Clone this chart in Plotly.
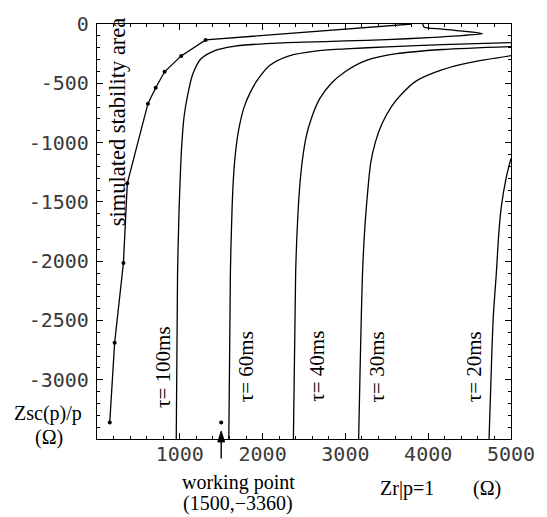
import plotly.graph_objects as go

# ---- data ----
stab_x = [154, 213, 319, 366, 615, 709, 816, 1017, 1312]
stab_y = [-3360, -2688, -2016, -1344, -672, -538, -403, -269, -134]
stab_end_x = [3800]
stab_end_y = [0]

tau100_x = [957, 973, 990, 1005, 1022, 1052, 1099, 1158, 1253, 1415, 1651, 2045, 2500, 3000, 3500, 4000, 4400, 4657, 4172, 3948, 3936]
tau100_y = [-3500, -2100, -1600, -1300, -1040, -778, -585, -420, -295, -226, -188, -165, -153, -143, -132, -115, -98, -80, -44, -25, 0]

tau60_x = [1592, 1611, 1631, 1652, 1680, 1720, 1775, 1845, 1940, 2084, 2320, 2636, 3000, 3500, 4172, 5000]
tau60_y = [-3500, -2100, -1560, -1250, -1040, -860, -705, -585, -470, -350, -268, -228, -210, -193, -174, -157]

tau40_x = [2372, 2399, 2420, 2445, 2480, 2530, 2597, 2690, 2830, 3000, 3262, 3617, 4172, 5000]
tau40_y = [-3500, -2100, -1700, -1400, -1150, -940, -780, -630, -500, -400, -305, -250, -215, -190]

tau30_x = [3160, 3207, 3235, 3266, 3306, 3365, 3443, 3562, 3680, 3857, 4172, 4500, 5000]
tau30_y = [-3500, -2100, -1713, -1440, -1170, -990, -840, -690, -590, -480, -385, -325, -267]

tau20_x = [4735, 4764, 4787, 4823, 4852, 4882, 4941, 5000]
tau20_y = [-3500, -2871, -2457, -2102, -1771, -1547, -1299, -1134]

work_x = [1500]
work_y = [-3360]

x_ticks = [1000, 2000, 3000, 4000, 5000]
y_ticks = [0, -500, -1000, -1500, -2000, -2500, -3000]
y_tick_text = ["0", "-500", "-1000", "-1500", "-2000", "-2500", "-3000"]

tau_labels = ["τ= 100ms", "τ= 60ms", "τ= 40ms", "τ= 30ms", "τ= 20ms"]
tau_label_x = [804, 1809, 2660, 3381, 4563]
tau_label_y = [-2896, -2888, -2888, -2888, -2888]

# ---- figure ----
W, H = 547, 517
ML, MR, MT, MB = 97, 27, 16, 78
PW, PH = W - ML - MR, H - MT - MB
X0, X1 = 0, 5000


def px2paper(px, py):
    return (px - ML) / PW, (H - MB - py) / PH


fig = go.Figure()

for xs, ys in [(tau100_x, tau100_y), (tau60_x, tau60_y), (tau40_x, tau40_y),
               (tau30_x, tau30_y), (tau20_x, tau20_y)]:
    fig.add_trace(go.Scatter(x=xs, y=ys, mode="lines",
                             line=dict(color="black", width=1.3, shape="spline", smoothing=0.8),
                             hoverinfo="skip", showlegend=False))

fig.add_trace(go.Scatter(x=stab_x + stab_end_x, y=stab_y + stab_end_y, mode="lines",
                         line=dict(color="black", width=1.3), hoverinfo="skip", showlegend=False))
fig.add_trace(go.Scatter(x=stab_x, y=stab_y, mode="markers",
                         marker=dict(color="black", size=4), hoverinfo="skip", showlegend=False))
fig.add_trace(go.Scatter(x=work_x, y=work_y, mode="markers",
                         marker=dict(color="black", size=4), hoverinfo="skip", showlegend=False))

serif = "Liberation Serif, Times New Roman, serif"
mono = "DejaVu Sans Mono"

ann = []
for t, x, y in zip(tau_labels, tau_label_x, tau_label_y):
    ann.append(dict(x=x, y=y, xref="x", yref="y", text=t, textangle=-90,
                    showarrow=False, font=dict(family=serif, size=21, color="black")))
ann.append(dict(x=248, y=-825, xref="x", yref="y", text="simulated stability area",
                textangle=-90, showarrow=False,
                font=dict(family=serif, size=22.5, color="black")))

# arrow pointing up at the working point from below the axis (paper refs, not clipped)
wxp = (work_x[0] - X0) / (X1 - X0)
half_w = 3.5 / PW
_, y_tip = px2paper(0, 431)
_, y_base = px2paper(0, 442)
_, y_tail = px2paper(0, 459)
fig.add_shape(type="line", xref="paper", yref="paper", x0=wxp, x1=wxp,
              y0=y_tail, y1=y_base, line=dict(color="black", width=1.4))
fig.add_shape(type="path", xref="paper", yref="paper",
              path=f"M {wxp} {y_tip} L {wxp - half_w} {y_base} L {wxp + half_w} {y_base} Z",
              fillcolor="black", line=dict(color="black", width=1))

for text, px, py, sz in [("working point", 242, 483, 20), ("(1500,\u22123360)", 241, 505, 20),
                         ("Zr|p=1", 414, 489, 20), ("(\u03a9)", 495, 489, 20),
                         ("Zsc(p)/p", 47, 413, 20), ("(\u03a9)", 48, 437, 20)]:
    xp, yp = px2paper(px, py)
    ann.append(dict(x=xp, y=yp, xref="paper", yref="paper", text=text, showarrow=False,
                    xanchor="center", yanchor="middle",
                    font=dict(family=serif, size=sz, color="black")))

fig.update_layout(
    width=W, height=H,
    margin=dict(l=ML, r=MR, t=MT, b=MB, pad=0),
    paper_bgcolor="white", plot_bgcolor="white",
    hovermode=False,
    annotations=ann,
    xaxis=dict(range=[X0, X1], tickvals=x_ticks, ticks="inside", ticklen=6, tickwidth=1,
               tickcolor="black", showline=True, linecolor="black", linewidth=1.3,
               mirror="ticks", showgrid=False, zeroline=False,
               tickfont=dict(family=mono, size=20, color="#3a3a3a"),
               ticklabelstandoff=-3,
               minor=dict(dtick=200, tick0=0, ticks="inside", ticklen=3, tickcolor="black",
                          showgrid=False)),
    yaxis=dict(range=[-3500, 0], tickvals=y_ticks, ticktext=y_tick_text, ticks="inside",
               ticklen=6, tickwidth=1, tickcolor="black", showline=True, linecolor="black",
               linewidth=1.3, mirror="ticks", showgrid=False, zeroline=False,
               tickfont=dict(family=mono, size=20, color="#3a3a3a"), ticklabelstandoff=3,
               minor=dict(dtick=100, tick0=0, ticks="inside", ticklen=3, tickcolor="black",
                          showgrid=False)),
)

fig.write_html("out.html")
